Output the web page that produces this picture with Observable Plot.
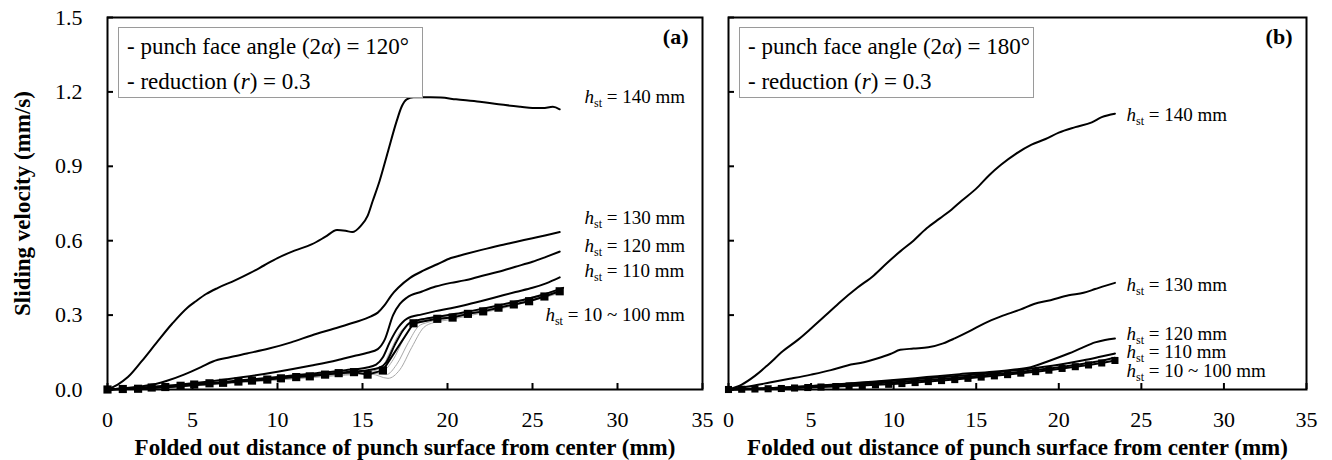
<!DOCTYPE html>
<html><head><meta charset="utf-8">
<script src="https://cdn.jsdelivr.net/npm/d3@7"></script>
<script src="https://cdn.jsdelivr.net/npm/@observablehq/plot@0.6"></script>
<style>
body{margin:0;background:#fff;}
#wrap{position:relative;width:1332px;height:460px;display:flex;font-family:"Liberation Serif",serif;}
.leg{position:absolute;top:27px;border:1px solid #9a9a9a;background:#fff;font:23px "Liberation Serif",serif;color:#000;padding:1px 0 0 8px;box-sizing:border-box;height:71px;}
.leg div{height:35px;line-height:35px;white-space:nowrap;}
</style>
</head><body>
<div id="wrap"></div>
<script>
// ---- ticks & text ----
const xTicks = [0, 5, 10, 15, 20, 25, 30, 35];
const yTicks = [0, 0.3, 0.6, 0.9, 1.2, 1.5];
const xTitle = "Folded out distance of punch surface from center (mm)";
const yTitle = "Sliding velocity (mm/s)";
const panelTags = ["(a)", "(b)"];
const faceAngles = ["120°", "180°"];
const reductions = ["0.3", "0.3"];
const curveLabels = ["140 mm", "130 mm", "120 mm", "110 mm", "10 ~ 100 mm"];

// ---- panel (a): 2α = 120° ----
const a140 = [[0,0],[0.6,0.02],[1.2,0.05],[2,0.113],[2.9,0.19],[3.8,0.265],[4.7,0.33],[5.2,0.356],[5.8,0.385],[6.5,0.41],[7.5,0.44],[8.4,0.47],[9.2,0.5],[10,0.53],[11,0.56],[12,0.585],[12.8,0.615],[13.5,0.643],[14,0.64],[14.4,0.635],[14.9,0.66],[15.3,0.7],[15.6,0.76],[16,0.84],[16.5,0.96],[17,1.08],[17.3,1.14],[17.6,1.17],[18,1.178],[19,1.178],[19.6,1.177],[20.5,1.17],[21.9,1.16],[23,1.15],[24.3,1.14],[25,1.135],[25.6,1.135],[26.2,1.14],[26.6,1.13]];
const a130 = [[0,0],[1,0.005],[2,0.013],[3,0.025],[3.5,0.035],[4.5,0.06],[5.5,0.09],[6.2,0.113],[7.2,0.13],[8.2,0.145],[9.5,0.165],[10.8,0.19],[12,0.218],[13.3,0.245],[14.5,0.27],[15.5,0.295],[15.9,0.31],[16.3,0.34],[16.7,0.38],[17.1,0.41],[17.8,0.45],[18.6,0.48],[19.4,0.505],[20.2,0.53],[21,0.545],[22,0.563],[23,0.58],[24,0.595],[25,0.61],[25.8,0.622],[26.6,0.635]];
const a120 = [[0,0],[2,0.008],[4,0.018],[6,0.032],[8,0.05],[10,0.072],[12,0.097],[13.5,0.118],[14.5,0.135],[15.3,0.148],[15.9,0.163],[16.3,0.2],[16.8,0.3],[17.2,0.345],[17.6,0.37],[18.5,0.395],[19.3,0.415],[20.2,0.43],[21,0.44],[22,0.458],[23,0.475],[24,0.495],[25,0.515],[25.8,0.535],[26.6,0.556]];
const a110 = [[0,0],[2,0.006],[4,0.014],[6,0.025],[8,0.038],[10,0.05],[12,0.064],[14,0.078],[15.2,0.088],[15.8,0.1],[16.2,0.13],[16.6,0.19],[17.1,0.25],[17.6,0.285],[18.5,0.303],[19.3,0.316],[20.2,0.328],[21,0.34],[22,0.357],[23,0.375],[24,0.393],[25,0.41],[25.8,0.428],[26.6,0.452]];
const a100 = [[0,0],[2,0.004],[4,0.012],[6,0.022],[8,0.034],[10,0.046],[12,0.058],[14,0.07],[15.3,0.078],[16,0.088],[16.4,0.11],[16.9,0.18],[17.4,0.24],[17.8,0.27],[18.5,0.283],[19.5,0.295],[20.5,0.305],[21.5,0.318],[22.5,0.332],[23.5,0.347],[24.5,0.362],[25.5,0.38],[26.8,0.41]];
const aGrey1 = [[0,0],[4,0.01],[8,0.03],[12,0.05],[14,0.062],[15.5,0.07],[16.2,0.075],[16.8,0.12],[17.4,0.2],[17.9,0.255],[18.5,0.272],[20,0.292],[22,0.318],[24,0.35],[26.7,0.4]];
const aGrey2 = [[0,0],[4,0.01],[8,0.03],[12,0.05],[14,0.06],[15.5,0.066],[16.4,0.06],[17,0.1],[17.7,0.19],[18.3,0.255],[18.8,0.27],[20,0.285],[22,0.312],[24,0.345],[26.7,0.395]];
const aGrey3 = [[0,0],[4,0.01],[8,0.028],[12,0.048],[14,0.058],[15.5,0.062],[16.5,0.045],[17.2,0.08],[17.9,0.17],[18.6,0.25],[19.2,0.27],[20,0.28],[22,0.308],[24,0.34],[26.7,0.39]];
const aGrey4 = [[0,0],[4,0.012],[8,0.032],[12,0.052],[14,0.064],[15.5,0.074],[16.1,0.085],[16.6,0.15],[17.2,0.23],[17.7,0.262],[18.5,0.278],[20,0.297],[22,0.322],[24,0.355],[26.7,0.405]];
const aSquares = [[0,0],[0.9,0.002],[1.8,0.003],[2.6,0.008],[3.4,0.01],[4.3,0.015],[5.1,0.02],[6.0,0.025],[6.8,0.027],[7.7,0.032],[8.5,0.036],[9.4,0.04],[10.2,0.045],[11.1,0.05],[11.9,0.053],[12.8,0.06],[13.6,0.066],[14.5,0.07],[15.3,0.06],[16.2,0.077],[18.0,0.267],[19.4,0.285],[20.3,0.29],[21.2,0.305],[22.1,0.315],[23.0,0.33],[23.9,0.343],[24.8,0.356],[25.7,0.375],[26.6,0.396]];
const aLabelX = [28.06, 28.06, 28.06, 28.06, 25.76];
const aLabelY = [1.18, 0.69, 0.58, 0.477, 0.30];

// ---- panel (b): 2α = 180° ----
const b140 = [[0,0],[0.8,0.02],[1.6,0.055],[2.4,0.1],[3.3,0.155],[4.2,0.2],[5,0.246],[5.9,0.3],[6.8,0.355],[7.8,0.41],[8.8,0.46],[9.6,0.51],[10.4,0.557],[11.2,0.6],[12,0.65],[12.8,0.69],[13.5,0.725],[14.1,0.76],[15,0.81],[15.8,0.865],[16.5,0.906],[17.4,0.95],[18.35,0.987],[19.2,1.01],[20,1.036],[21,1.058],[22,1.077],[22.6,1.098],[23.4,1.112]];
const b130 = [[0,0],[1,0.01],[2.5,0.028],[3.7,0.043],[5,0.06],[6.2,0.078],[7.2,0.097],[8.2,0.11],[9,0.125],[9.8,0.143],[10.4,0.16],[11.2,0.165],[12.1,0.17],[13,0.186],[13.7,0.206],[14.6,0.235],[15.5,0.267],[16.5,0.295],[17.7,0.323],[18.5,0.345],[19.5,0.36],[20.6,0.38],[21.5,0.39],[22.2,0.405],[22.8,0.418],[23.4,0.43]];
const b120 = [[0,0],[2,0.004],[4,0.01],[6,0.018],[8,0.028],[10,0.038],[12,0.05],[14,0.062],[16,0.072],[17.2,0.08],[18.3,0.09],[19.4,0.115],[20.6,0.145],[21.4,0.168],[22.2,0.19],[22.8,0.2],[23.4,0.206]];
const b110 = [[0,0],[2,0.004],[4,0.01],[6,0.017],[8,0.026],[10,0.035],[12,0.045],[14,0.055],[16,0.068],[18,0.082],[20,0.1],[21.5,0.118],[22.5,0.132],[23.4,0.145]];
const b100 = [[0,0],[2,0.003],[4,0.008],[6,0.014],[8,0.021],[10,0.029],[12,0.038],[14,0.048],[16,0.06],[18,0.074],[20,0.09],[21.5,0.104],[22.5,0.115],[23.4,0.128]];
const bSquares = [[0,0],[0.8,0.001],[1.6,0.002],[2.4,0.003],[3.2,0.004],[4.0,0.006],[4.8,0.008],[5.6,0.01],[6.5,0.012],[7.3,0.014],[8.1,0.016],[8.9,0.019],[9.7,0.021],[10.5,0.024],[11.3,0.028],[12.1,0.032],[12.9,0.036],[13.7,0.04],[14.5,0.045],[15.3,0.05],[16.1,0.055],[16.9,0.06],[17.7,0.066],[18.6,0.072],[19.4,0.078],[20.2,0.085],[21.0,0.092],[21.8,0.099],[22.6,0.107],[23.4,0.117]];
const bLabelX = [24.1, 24.1, 24.1, 24.1, 24.1];
const bLabelY = [1.108, 0.423, 0.226, 0.15, 0.073];

const X = d => d[0], Y = d => d[1];

function makePanel(p) {
  const labels = curveLabels.map((t, i) => ({t, x: p.lx[i], y: p.ly[i]}));
  const marks = [
    ...p.grey.map(s => Plot.line(s, {x: X, y: Y, stroke: "#a8a8a8", strokeWidth: 1, curve: "monotone-x"})),
    ...p.black.map(s => Plot.line(s, {x: X, y: Y, stroke: "#000", strokeWidth: 2, curve: "monotone-x"})),
    Plot.line(p.sq, {x: X, y: Y, stroke: "#000", strokeWidth: 2}),
    Plot.dot(p.sq, {x: X, y: Y, symbol: "square", r: p.r, fill: "#000", stroke: null}),
    Plot.axisX({ticks: xTicks, tickSize: -6, tickPadding: 28, strokeWidth: 2, tickFormat: d => String(d), label: null, fontSize: 22}),
    Plot.axisY({ticks: yTicks, tickSize: -6, tickPadding: 31, strokeWidth: 2, tickFormat: p.showY ? d3.format(".1f") : () => "", label: null, fontSize: 22}),
    Plot.frame({stroke: "#000", strokeWidth: 2}),
    Plot.text(labels, {x: "x", y: "y", text: "t", textAnchor: "start", lineAnchor: "middle", fontSize: 19}),
    Plot.text([p.tag], {frameAnchor: "top-right", textAnchor: "end", lineAnchor: "middle", dx: -14, dy: 19, fontWeight: "bold", fontSize: 22}),
    Plot.text([xTitle], {frameAnchor: "bottom", textAnchor: "middle", lineAnchor: "middle", dy: 58, fontWeight: "bold", fontSize: 23})
  ];
  if (p.showY) marks.push(Plot.text([yTitle], {frameAnchor: "left", textAnchor: "middle", lineAnchor: "middle", dx: -85, rotate: -90, fontWeight: "bold", fontSize: 23}));
  const svg = Plot.plot({
    width: p.width, height: 460,
    marginLeft: p.ml, marginRight: p.mr, marginTop: 17, marginBottom: 71,
    style: {fontFamily: '"Liberation Serif", serif', fontSize: "22px", color: "#000", background: "transparent", overflow: "visible"},
    x: {domain: [0, 35]},
    y: {domain: [0, 1.5]},
    marks
  });
  d3.select(svg).selectAll("text").filter(function () {
    return curveLabels.includes(this.textContent) && this.childElementCount === 0;
  }).each(function () {
    const rest = this.textContent;
    const t = d3.select(this);
    t.text(null);
    t.append("tspan").attr("font-style", "italic").text("h");
    t.append("tspan").attr("font-size", 12).attr("dy", 4).text("st");
    t.append("tspan").attr("dy", -4).text(" = " + rest);
  });
  return svg;
}

const wrap = document.getElementById("wrap");
wrap.appendChild(makePanel({
  width: 715, ml: 107, mr: 13, tag: panelTags[0], showY: true, r: 4.6,
  grey: [aGrey1, aGrey2, aGrey3, aGrey4], black: [a140, a130, a120, a110, a100],
  sq: aSquares, lx: aLabelX, ly: aLabelY
}));
wrap.appendChild(makePanel({
  width: 617, ml: 13, mr: 26, tag: panelTags[1], showY: false, r: 4,
  grey: [], black: [b140, b130, b120, b110, b100],
  sq: bSquares, lx: bLabelX, ly: bLabelY
}));

function legend(left, width, i) {
  const d = document.createElement("div");
  d.className = "leg";
  d.style.left = left + "px";
  d.style.width = width + "px";
  d.innerHTML = `<div>- punch face angle (2<i>α</i>) = ${faceAngles[i]}</div><div>- reduction (<i>r</i>) = ${reductions[i]}</div>`;
  wrap.appendChild(d);
}
legend(118, 305, 0);
legend(739, 295, 1);
</script>
</body></html>
